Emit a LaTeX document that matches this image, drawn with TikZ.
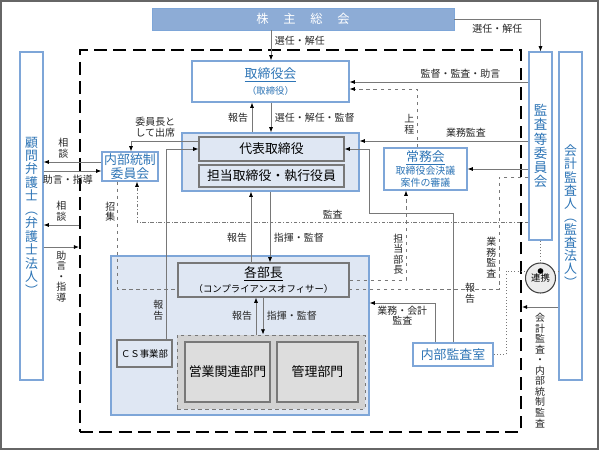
\documentclass[tikz,border=0pt]{standalone}
\usepackage{fontspec}
\setmainfont{Noto Sans CJK JP}
\usetikzlibrary{arrows.meta, positioning}
\definecolor{kblue}{RGB}{126,166,216}
\definecolor{ktext}{RGB}{46,117,182}
\definecolor{kfill}{RGB}{223,231,243}
\definecolor{khead}{RGB}{141,172,214}
\definecolor{kline}{RGB}{120,120,120}
\definecolor{kgray}{RGB}{221,221,221}

\begin{document}
\begin{tikzpicture}[x=0.03cm,y=-0.03cm,
  bbox/.style={draw=kblue,line width=1pt,fill=white,text=ktext,inner sep=0pt,align=center,font=\fontsize{11}{13}\selectfont},
  gbox/.style={draw=kline,line width=0.9pt,fill=kfill,inner sep=0pt,align=center,font=\fontsize{11}{13}\selectfont},
  region/.style={draw=kblue,line width=1pt,fill=kfill,inner sep=0pt},
  conn/.style={draw=kline,line width=0.7pt},
  lab/.style={font=\fontsize{8.5}{9}\selectfont,inner sep=0pt,align=center,text=black!85},
  >={Latex[length=4.5pt,width=3.5pt,color=black]}]
\useasboundingbox (0,0) rectangle (599,450);
\draw[gray!80!black,line width=1.5pt] (0.8,0.8) rectangle (598.2,449.2);

% outer frame and shaded areas
\node[draw=black,line width=1.6pt,dash pattern=on 11pt off 5.5pt,minimum width=13.23cm,minimum height=11.46cm,inner sep=0pt] (frame) at (300.5,241) {};
\node[region,minimum width=5.31cm,minimum height=1.74cm] (keiei) at (270.5,162) {};
\node[region,minimum width=7.74cm,minimum height=4.77cm] (bukai) at (240,335.5) {};
\node[draw=kline,dashed,line width=0.7pt,fill=gray!35,minimum width=5.64cm,minimum height=2.22cm,inner sep=0pt] (bumon) at (271,372) {};

% boxes
\node[fill=khead,draw=kblue,minimum width=9.06cm,minimum height=0.66cm,text=white,font=\fontsize{10.5}{12}\selectfont] (soukai) at (303,19) {株\hspace{1.2em}主\hspace{1.2em}総\hspace{1.2em}会};
\node[bbox,minimum width=4.71cm,minimum height=1.23cm] (tori) at (270.5,81.5) {\underline{取締役会}\\{\fontsize{8}{10}\selectfont（取締役）}};
\node[gbox,minimum width=4.35cm,minimum height=0.72cm] (daihyo) at (271.5,149) {代表取締役};
\node[gbox,minimum width=4.35cm,minimum height=0.66cm] (tanto) at (271.5,176) {担当取締役・執行役員};
\node[bbox,minimum width=0.69cm,minimum height=9.84cm,font=\fontsize{11}{11.5}\selectfont] (komon) at (31.5,216) {顧\\問\\弁\\護\\士\\︵\\弁\\護\\士\\法\\人\\︶};
\node[bbox,minimum width=1.68cm,minimum height=0.87cm,font=\fontsize{11}{11.5}\selectfont] (naibu) at (130,166.5) {内部統制\\委員会};
\node[bbox,minimum width=0.69cm,minimum height=5.64cm,font=\fontsize{11.5}{12}\selectfont] (kansa) at (540.5,146) {監\\査\\等\\委\\員\\会};
\node[bbox,minimum width=0.69cm,minimum height=9.84cm,font=\fontsize{11}{11.2}\selectfont] (kaikei) at (570.5,216) {会\\計\\監\\査\\人\\︵\\監\\査\\法\\人\\︶};
\node[bbox,minimum width=2.49cm,minimum height=1.26cm,font=\fontsize{8.5}{10}\selectfont] (jomu) at (425.5,169) {{\fontsize{11}{12}\selectfont\underline{常務会}}\\取締役会決議\\案件の審議};
\node[gbox,minimum width=5.13cm,minimum height=1.02cm] (bucho) at (263.5,280) {\underline{各部長}\\{\fontsize{8}{10}\selectfont（コンプライアンスオフィサー）}};
\node[gbox,minimum width=1.65cm,minimum height=0.81cm,font=\fontsize{8}{10}\selectfont] (cs) at (144.5,353.5) {ＣＳ事業部};
\node[gbox,fill=kgray,minimum width=2.55cm,minimum height=1.8cm] (eigyo) at (227.5,372) {営業関連部門};
\node[gbox,fill=kgray,minimum width=2.43cm,minimum height=1.8cm] (kanri) at (317.5,372) {管理部門};
\node[bbox,minimum width=2.4cm,minimum height=0.69cm] (naibukansa) at (453,354.5) {内部監査室};

% connectors
\draw[conn,->] (soukai.south -| 271,0) -- node[lab,right=3pt,pos=0.35]{選任・解任} (tori.north -| 271,0);
\draw[conn,->] (soukai.east) -| node[lab,pos=0.25,below=4pt]{選任・解任} (kansa.north);
\draw[conn,->] (keiei.north -| 252,0) -- node[lab,left=3pt]{報告} (tori.south -| 252,0);
\draw[conn,->] (tori.south -| 271,0) -- node[lab,right=3pt]{選任・解任・監督} (keiei.north -| 271,0);
\draw[conn,->] (bucho.north -| 251,0) -- node[lab,left=3pt,pos=0.35]{報告} (keiei.south -| 251,0);
\draw[conn,->] (keiei.south -| 270,0) -- node[lab,right=3pt,pos=0.65]{指揮・監督} (bucho.north -| 270,0);
\draw[conn,->] (bumon.north -| 256,0) -- node[lab,left=3pt]{報告} (bucho.south -| 256,0);
\draw[conn,->] (bucho.south -| 263,0) -- node[lab,right=3pt]{指揮・監督} (bumon.north -| 263,0);
\draw[conn,->] (kansa.west |- 0,82) -- node[lab,above=3pt,pos=0.38]{監督・監査・助言} (tori.east |- 0,82);
\draw[conn,dashed,->] (jomu.north -| 417,0) |- node[lab,pos=0.2,left=2pt]{上\\程} (tori.east |- 0,89);
\draw[conn,->] (kansa.west |- 0,141) -- node[lab,above=3pt,pos=0.37]{業務監査} (keiei.east |- 0,141);
\draw[conn,->] (kansa.west |- jomu.east) -- (jomu.east);
\draw[conn,->] (naibukansa.north) |- node[lab,pos=0.19,right=10pt]{報\\告} (369,213) |- (daihyo.east);
\draw[conn,->] (naibukansa.north -| 435,0) |- node[lab,pos=0.75,below=2pt]{業務・会計\\監査} (bukai.east |- 0,303);
\draw[conn,dash pattern=on 3pt off 1.5pt on 0.8pt off 1.5pt,->] (kansa.west |- 0,222) -| node[lab,pos=0.25,above=2pt]{監査} (naibu.south -| 137,0);
\draw[conn,dashed] (kansa.west |- 0,177) -| node[lab,pos=0.86,left=2pt]{業\\務\\監\\査} (499,289) -- (bucho.east |- 0,289);
\draw[conn,dashed,->] (bucho.east |- 0,280) -| node[lab,pos=0.645,left=2pt]{担\\当\\部\\長} (jomu.south -| 406,0);
\draw[conn,dashed] (naibu.south -| 117,0) |- node[lab,pos=0.14,left=1pt]{招\\集} (bucho.west |- 0,289);
\draw[conn,->] (daihyo.west |- 0,141) -| node[lab,pos=0.32,above=3pt]{委員長と\\して出席} (naibu.north -| 131,0);
\draw[conn,->] (cs.north -| 166,0) |- node[lab,pos=0.076,left=2pt]{報\\告} (daihyo.west |- 0,149);
\draw[conn,->] (naibu.west |- 0,162) -- node[lab,pos=0.66,above=3pt]{相\\談} (komon.east |- 0,162);
\draw[conn,->] (komon.east |- 0,171) -- node[lab,pos=0.42,below=3pt]{助言・指導} (naibu.west |- 0,171);
\draw[conn,->] (frame.west |- 0,225) -- node[lab,above=3pt]{相\\談} (komon.east |- 0,225);
\draw[conn,->] (komon.east |- 0,247) -- node[lab,below=3pt]{助\\言\\・\\指\\導} (frame.west |- 0,247);
\draw[conn,->] (kaikei.west |- 0,307) -- node[lab,below=5pt]{会\\計\\監\\査\\・\\内\\部\\統\\制\\監\\査} (frame.east |- 0,307);

% cooperation
\coordinate (dot) at (540.5,271);
\draw[conn,dotted,line width=0.8pt] (naibukansa.east) -| (506,271) -- (dot);
\draw[conn,dotted,line width=0.8pt] (kansa.south) -- (dot);
\draw[conn,dotted,line width=0.8pt] (kaikei.west |- dot) -- (dot);
\node[circle,draw=black!75,line width=0.9pt,fill=gray!15,minimum size=0.9cm,inner sep=0pt,font=\fontsize{8}{9}\selectfont] (renkei) at (540.5,278) {\raisebox{-3pt}{連携}};
\node[circle,fill=black,minimum size=0.17cm,inner sep=0pt] (renkeidot) at (dot) {};
\end{tikzpicture}
\end{document}
